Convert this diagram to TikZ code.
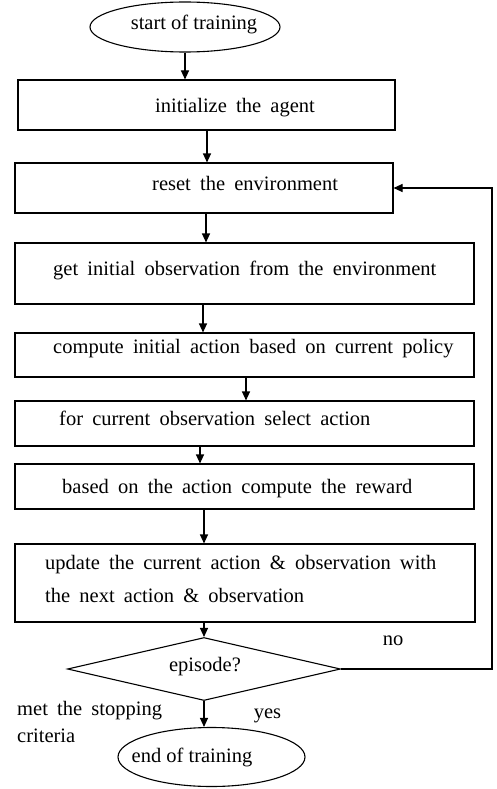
\documentclass[tikz,border=0pt]{standalone}
\usepackage{fontspec}
\setmainfont{Liberation Serif}
\usetikzlibrary{shapes.geometric,arrows.meta}
\newcommand\mywidesp{\spaceskip=0.45em\relax}
\tikzset{
  base/.style={draw=black, line width=1.1pt, inner sep=0pt},
  stepbox/.style={base, rectangle},
  oval/.style={base, ellipse},
  txt/.style={font=\fontsize{20.5}{33}\selectfont, inner sep=0pt},
  ltxt/.style={txt, anchor=mid west, execute at begin node=\mywidesp},
  arr/.style={line width=1.1pt, -{Triangle[length=9pt,width=8pt]}},
}
\begin{document}
\begin{tikzpicture}[x=1pt,y=-1pt]
\useasboundingbox (0,0) rectangle (497,789);
% shapes
\node[oval, minimum width=190pt, minimum height=50pt] (start) at (185,27) {};
\node[stepbox, minimum width=377pt, minimum height=50pt] (b1) at (206.5,105) {};
\node[stepbox, minimum width=378pt, minimum height=50pt] (b2) at (204,188) {};
\node[stepbox, minimum width=459pt, minimum height=61pt] (b3) at (244.5,273.5) {};
\node[stepbox, minimum width=459pt, minimum height=44pt] (b4) at (244.5,355) {};
\node[stepbox, minimum width=459pt, minimum height=45pt] (b5) at (244.5,423.5) {};
\node[stepbox, minimum width=459pt, minimum height=45pt] (b6) at (244.5,486.5) {};
\node[stepbox, minimum width=460pt, minimum height=78pt] (b7) at (245,583) {};
\node[base, diamond, minimum width=273pt, minimum height=63pt, aspect=4.33] (dia) at (204,669) {};
\node[oval, minimum width=187pt, minimum height=59pt] (end) at (211.5,757) {};
% texts
\node[txt] (t0) at (194,24) {start of training};
\node[ltxt] (t1) at (155,110) {initialize the agent};
\node[ltxt] (t2) at (152,188) {reset the environment};
\node[ltxt] (t3) at (53,273) {get initial observation from the environment};
\node[ltxt] (t4) at (53,351) {compute initial action based on current policy};
\node[ltxt] (t5) at (59,423) {for current observation select action};
\node[ltxt] (t6) at (62,491) {based on the action compute the reward};
\node[ltxt] (t7a) at (45,567) {update the current action \& observation with};
\node[ltxt] (t7b) at (45,600) {the next action \& observation};
\node[txt] (td) at (205,667) {episode?};
\node[txt] (tend) at (192,757) {end of training};
\node[txt] (tno) at (393,641) {no};
\node[txt] (tyes) at (267.5,716) {yes};
\node[ltxt] (tm1) at (17,713) {met the stopping};
\node[ltxt] (tm2) at (17,740) {criteria};
% connectors
\coordinate (loop) at (492,188);
\draw[arr] (start.south -| 185,0) -- (b1.north -| 185,0);
\draw[arr] (b1.south -| 207,0) -- (b2.north -| 207,0);
\draw[arr] (b2.south -| 206,0) -- (b3.north -| 206,0);
\draw[arr] (b3.south -| 203,0) -- (b4.north -| 203,0);
\draw[arr] (b4.south -| 246,0) -- (b5.north -| 246,0);
\draw[arr] (b5.south -| 200,0) -- (b6.north -| 200,0);
\draw[arr] (b6.south -| 204,0) -- (b7.north -| 204,0);
\draw[arr] (b7.south -| dia.north) -- (dia.north);
\draw[arr] (dia.south) -- (dia.south |- end.north);
\draw[arr] (dia.east) -| (loop) -- (b2.east);
\end{tikzpicture}
\end{document}
